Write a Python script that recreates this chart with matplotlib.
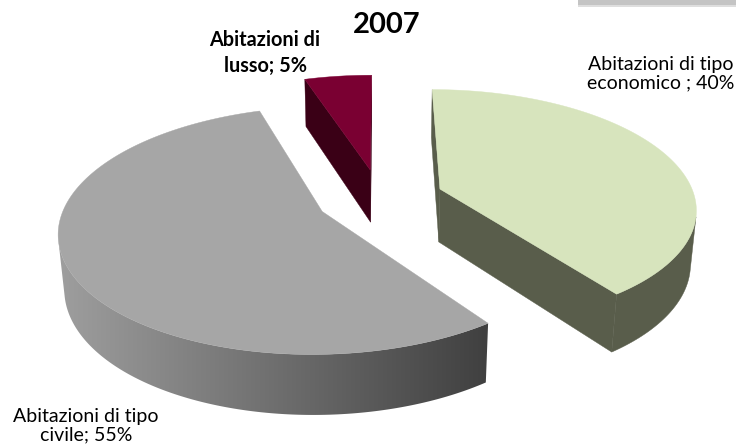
import numpy as np
import matplotlib
matplotlib.use("Agg")
import matplotlib.pyplot as plt
from matplotlib.patches import Polygon, Rectangle
from matplotlib.colors import LinearSegmentedColormap

# ---- data ----
categories = ["Abitazioni di tipo economico", "Abitazioni di tipo civile", "Abitazioni di lusso"]
values = [40, 55, 5]
label_texts = ["Abitazioni di tipo\neconomico ; 40%", "Abitazioni di tipo\ncivile; 55%", "Abitazioni di\nlusso; 5%"]
title = "2007"

# ---- styles ----
top_colors = ["#d7e4bd", "#a6a6a6", "#7a0032"]
side_colors = ["#595d4b", "#5a5a5a", "#3a0016"]
FONT = ["Lato", "DejaVu Sans"]

# 3D perspective view parameters (pixel space)
S, CX, CY = 255.0, 380.0, 198.0
ALPHA = np.deg2rad(27.3)
DIST = 5.9
EXPLODE = 0.25
HEIGHT = 0.24
sa, ca = np.sin(ALPHA), np.cos(ALPHA)
CAM = np.array([0.0, -DIST * ca])  # horizontal camera position


def proj(X, Y, Z):
    X = np.asarray(X, float); Y = np.asarray(Y, float); Z = np.asarray(Z, float)
    yc = Y * sa + Z * ca
    zc = Y * ca - Z * sa
    w = DIST / (DIST + zc)
    return CX + S * X * w, CY - S * yc * w


fig = plt.figure(figsize=(7.36, 4.47), dpi=100)
ax = fig.add_axes([0, 0, 1, 1])
ax.set_xlim(0, 736)
ax.set_ylim(447, 0)
ax.axis("off")

total = float(sum(values))
slices = []
start = 0.0
for i, v in enumerate(values):
    a0 = start
    a1 = start + 360.0 * v / total
    start = a1
    b = np.deg2rad((a0 + a1) / 2)
    c = np.array([EXPLODE * np.sin(b), EXPLODE * np.cos(b)])
    slices.append((i, a0, a1, c))

# back-to-front
slices.sort(key=lambda s: -s[3][1])

gray_cmap = LinearSegmentedColormap.from_list("g", [(0.62, 0.62, 0.62), (0.25, 0.25, 0.25)])

z = 1
for i, a0, a1, c in slices:
    th = np.deg2rad(np.linspace(a0, a1, 400))
    rx = c[0] + np.sin(th)
    ry = c[1] + np.cos(th)

    # radial faces
    for ang, sign in ((a0, -1), (a1, 1)):
        t = np.deg2rad(ang + sign * 90)
        n = np.array([np.sin(t), np.cos(t)])
        if np.dot(n, CAM - c) > 0:
            e = np.array([c[0] + np.sin(np.deg2rad(ang)), c[1] + np.cos(np.deg2rad(ang))])
            X = [c[0], e[0], e[0], c[0]]
            Y = [c[1], e[1], e[1], c[1]]
            Zs = [0, 0, -HEIGHT, -HEIGHT]
            px, py = proj(X, Y, Zs)
            ax.add_patch(Polygon(np.c_[px, py], closed=True, facecolor=side_colors[i],
                                 edgecolor=side_colors[i], lw=0.3, zorder=z))
            z += 1

    # outer wall (visible part)
    vis = (np.sin(th) * (CAM[0] - rx) + np.cos(th) * (CAM[1] - ry)) > 0
    if vis.any():
        idx = np.where(vis)[0]
        tx, ty = proj(rx[idx], ry[idx], np.zeros(len(idx)))
        bx, by = proj(rx[idx], ry[idx], -HEIGHT * np.ones(len(idx)))
        poly = np.r_[np.c_[tx, ty], np.c_[bx, by][::-1]]
        if i == 1:
            patch = Polygon(poly, closed=True, facecolor="none", edgecolor="none",
                            transform=ax.transData)
            x0, x1 = poly[:, 0].min(), poly[:, 0].max()
            y0, y1 = poly[:, 1].min(), poly[:, 1].max()
            grad = np.linspace(0, 1, 256)[None, :]
            im = ax.imshow(grad, extent=(x0, x1, y1, y0), cmap=gray_cmap, aspect="auto",
                           interpolation="bilinear", zorder=z)
            im.set_clip_path(patch)
        else:
            ax.add_patch(Polygon(poly, closed=True, facecolor=side_colors[i],
                                 edgecolor=side_colors[i], lw=0.3, zorder=z))
        z += 1

    # top face
    tx, ty = proj(np.r_[c[0], rx], np.r_[c[1], ry], np.zeros(len(rx) + 1))
    ax.add_patch(Polygon(np.c_[tx, ty], closed=True, facecolor=top_colors[i],
                         edgecolor=top_colors[i], lw=0.3, zorder=z))
    z += 1

ax.set_xlim(0, 736)
ax.set_ylim(447, 0)

# top-right frame remnant
ax.add_patch(Rectangle((578, -2), 160, 7, facecolor="#c4c4c4", edgecolor="none", zorder=z))
ax.add_patch(Rectangle((578, 5), 160, 2, facecolor="#dedede", edgecolor="none", zorder=z))

# texts
ax.text(387, 25, title, ha="center", va="center", fontsize=21, fontweight="bold",
        family=FONT, zorder=z + 1)
ax.text(265, 53, label_texts[2], ha="center", va="center", multialignment="center",
        fontsize=14.3, fontweight="bold", family=FONT, linespacing=1.32, zorder=z + 1)
ax.text(661, 74, label_texts[0], ha="center", va="center", multialignment="center",
        fontsize=14, family=FONT, linespacing=1.1, zorder=z + 1)
ax.text(86, 426, label_texts[1], ha="center", va="center", multialignment="center",
        fontsize=14, family=FONT, linespacing=1.12, zorder=z + 1)

fig.savefig("out.png", dpi=100)
